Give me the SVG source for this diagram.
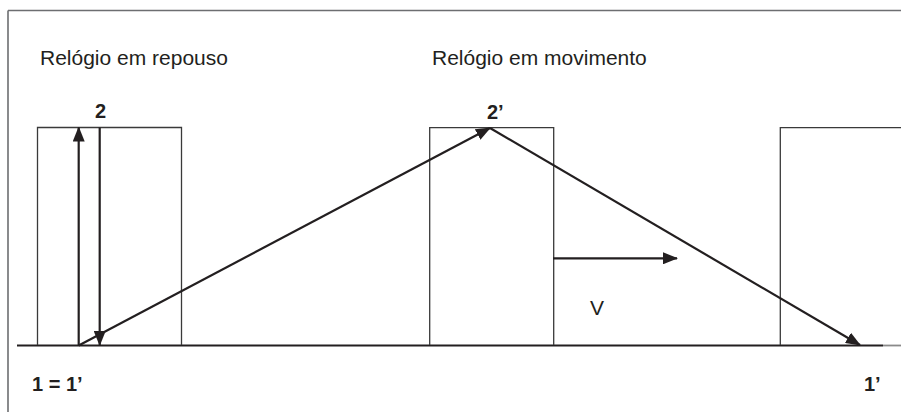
<svg xmlns="http://www.w3.org/2000/svg" width="901" height="412" viewBox="0 0 901 412">
  <style>
    .frame { fill: none; stroke: #6d6e71; stroke-width: 1.6; }
    .box { fill: none; stroke: #3a3a3a; stroke-width: 1.3; }
    .ray { fill: none; stroke: #231f20; stroke-width: 2.2; }
    .title { font-family: "Liberation Sans", Arial, sans-serif; font-size: 21px; fill: #231f20; }
    .lbl { font-family: "Liberation Sans", Arial, sans-serif; font-size: 20px; font-weight: bold; fill: #231f20; }
  </style>
  <defs>
    <marker id="ah" viewBox="0 0 15 12" refX="14" refY="6" markerWidth="15" markerHeight="12" markerUnits="userSpaceOnUse" orient="auto">
      <path d="M0,0 L15,6 L0,12 Z" fill="#231f20"/>
    </marker>
  </defs>
  <rect width="901" height="412" fill="#ffffff"/>
  <g id="frame">
    <path class="frame" d="M8,10.5 H901 M8,10.5 V412"/>
  </g>
  <g id="ground">
    <line x1="17" y1="345.5" x2="883" y2="345.5" stroke="#231f20" stroke-width="1.8"/>
    <line x1="883" y1="345.5" x2="901" y2="345.5" stroke="#8a8a8a" stroke-width="1.8"/>
  </g>
  <g id="clock-rest">
    <path class="box" d="M37.5,345 V127.5 H181.5 V345"/>
  </g>
  <g id="clock-moving">
    <path class="box" d="M429.7,345 V127.7 H553.7 V345"/>
  </g>
  <g id="clock-moving-2">
    <path class="box" d="M780.3,345 V127.7 H901"/>
  </g>
  <g id="texts">
    <text class="title" x="40" y="65">Relógio em repouso</text>
    <text class="title" x="432" y="65">Relógio em movimento</text>
    <text class="lbl" x="95" y="118">2</text>
    <text class="lbl" x="487" y="119">2’</text>
    <text class="title" x="590" y="315">V</text>
    <text class="lbl" x="32" y="391">1 = 1’</text>
    <text class="lbl" x="864" y="391">1’</text>
  </g>
  <g id="connectors">
    <line class="ray" x1="78.7" y1="345.5" x2="78.7" y2="127.5" marker-end="url(#ah)"/>
    <line class="ray" x1="99.7" y1="127.5" x2="99.7" y2="345" marker-end="url(#ah)"/>
    <line class="ray" x1="78.7" y1="345.5" x2="490" y2="128" marker-end="url(#ah)"/>
    <line class="ray" x1="490" y1="128" x2="860" y2="345" marker-end="url(#ah)"/>
    <line class="ray" x1="553" y1="258.3" x2="677" y2="258.3" marker-end="url(#ah)"/>
  </g>
</svg>
